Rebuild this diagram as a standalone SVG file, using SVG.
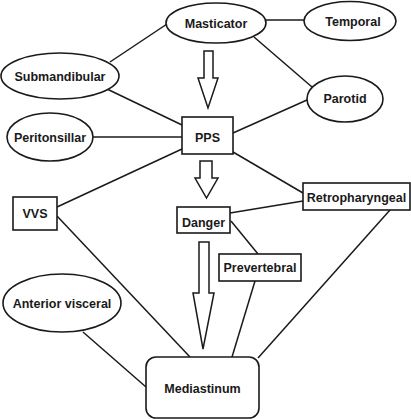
<svg xmlns="http://www.w3.org/2000/svg" width="411" height="419" viewBox="0 0 411 419">
<style>
.n{fill:#fff;stroke:#1a1a1a;stroke-width:1.6}
.c line{stroke:#1a1a1a;stroke-width:1.5}
.a{fill:#fff;stroke:#1a1a1a;stroke-width:1.5;stroke-linejoin:miter}
text{font-family:"Liberation Sans",Arial,sans-serif;font-weight:bold;font-size:12.5px;fill:#1a1a1a;text-anchor:middle}
</style>
<rect width="411" height="419" fill="#fff"/>
<g id="connectors" class="c">
<line x1="266" y1="20" x2="304" y2="20"/>
<line x1="167" y1="24" x2="110" y2="62"/>
<line x1="107" y1="89" x2="182" y2="125"/>
<line x1="254" y1="37" x2="312" y2="87"/>
<line x1="307" y1="100" x2="233" y2="133"/>
<line x1="93" y1="137" x2="182" y2="137"/>
<line x1="182" y1="149" x2="57" y2="207"/>
<line x1="233" y1="152" x2="303" y2="193"/>
<line x1="230" y1="213" x2="303" y2="201"/>
<line x1="231" y1="221" x2="258" y2="254"/>
<line x1="390" y1="210" x2="258" y2="358"/>
<line x1="57" y1="216" x2="190" y2="357"/>
<line x1="83" y1="332" x2="146" y2="387"/>
<line x1="255" y1="281" x2="232" y2="357"/>
<polygon class="a" points="204,51 213,51 213,78 218,78 208,108 198,78 204,78"/>
<polygon class="a" points="200,161 212,161 212,178 218,178 206.5,198 195,178 200,178"/>
<polygon class="a" points="199,242 209,242 209,293 214,293 203,349 193,293 199,293"/>
</g>
<g id="masticator"><ellipse class="n" cx="216" cy="23" rx="50" ry="20"/><text x="216" y="27.5">Masticator</text></g>
<g id="temporal"><ellipse class="n" cx="350" cy="21" rx="46" ry="19.5"/><text x="353" y="26">Temporal</text></g>
<g id="submandibular"><ellipse class="n" cx="60" cy="76" rx="59" ry="23"/><text x="60" y="81">Submandibular</text></g>
<g id="parotid"><ellipse class="n" cx="345" cy="99" rx="38" ry="23"/><text x="345" y="103">Parotid</text></g>
<g id="peritonsillar"><ellipse class="n" cx="50" cy="137" rx="43" ry="24"/><text x="50" y="141.5">Peritonsillar</text></g>
<g id="pps"><rect class="n" x="182" y="117" width="51" height="37"/><text x="207.5" y="141.5">PPS</text></g>
<g id="retropharyngeal"><rect class="n" x="303" y="183" width="107" height="27"/><text x="356.5" y="201.5">Retropharyngeal</text></g>
<g id="vvs"><rect class="n" x="13" y="197" width="44" height="33"/><text x="35" y="217.5">VVS</text></g>
<g id="danger"><rect class="n" x="177" y="207" width="53" height="26"/><text x="203.5" y="226.5">Danger</text></g>
<g id="prevertebral"><rect class="n" x="219" y="254" width="82" height="27"/><text x="260" y="271.5">Prevertebral</text></g>
<g id="anterior-visceral"><ellipse class="n" cx="62" cy="303" rx="59" ry="29"/><text x="62" y="307.5">Anterior visceral</text></g>
<g id="mediastinum"><rect class="n" x="146" y="357" width="113" height="61" rx="10"/><text x="202.5" y="392.5">Mediastinum</text></g>
</svg>
